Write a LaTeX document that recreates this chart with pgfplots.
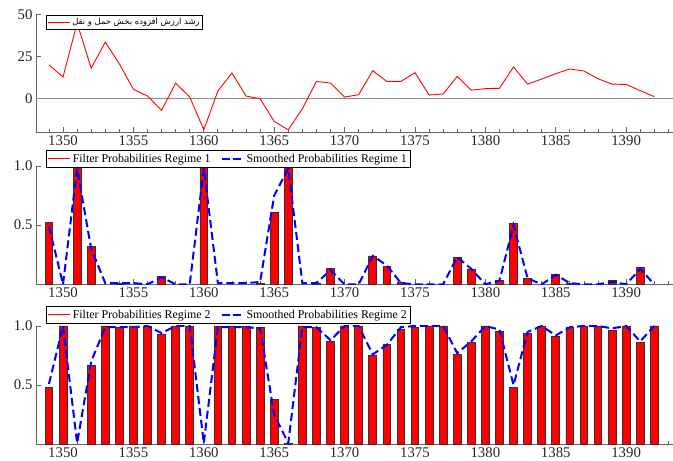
\documentclass[border=0pt]{standalone}
\usepackage{fontspec}
\setmainfont{Liberation Serif}
\newfontfamily\arabicfont[Script=Arabic]{DejaVu Sans}
\TeXXeTstate=1
\usepackage{pgfplots}
\usepackage{pgfplotstable}
\pgfplotsset{compat=1.18}

\pgfplotstableread{
year top fr1 sr1 fr2 sr2
1349 20.0 0.52 0.49 0.48 0.51
1350 12.7 0.00 0.00 1.00 1.00
1351 44.8 1.00 0.98 0.00 0.01
1352 18.0 0.32 0.30 0.67 0.70
1353 33.5 0.00 0.01 1.00 0.99
1354 20.6 0.01 0.01 0.99 0.99
1355 5.4 0.00 0.01 1.00 0.99
1356 1.4 0.00 0.00 1.00 1.00
1357 -7.1 0.065 0.06 0.93 0.94
1358 9.1 0.00 0.00 1.00 1.00
1359 0.8 0.00 0.00 1.00 1.00
1360 -18.7 1.00 0.98 0.00 0.01
1361 4.4 0.00 0.01 1.00 0.99
1362 15.1 0.00 0.01 1.00 0.99
1363 1.4 0.00 0.01 1.00 0.99
1364 -0.2 0.01 0.02 0.99 0.98
1365 -13.7 0.61 0.75 0.38 0.25
1366 -18.7 0.99 0.98 0.01 0.01
1367 -6.2 0.00 0.01 1.00 0.99
1368 10.1 0.01 0.01 0.99 0.99
1369 9.1 0.135 0.12 0.87 0.88
1370 0.8 0.00 0.00 1.00 1.00
1371 2.2 0.00 0.00 1.00 1.00
1372 16.5 0.24 0.24 0.755 0.76
1373 10.1 0.15 0.16 0.845 0.84
1374 10.1 0.02 0.01 0.97 0.99
1375 15.3 0.00 0.00 0.99 1.00
1376 2.0 0.00 0.00 1.00 1.00
1377 2.6 0.00 0.00 1.00 1.00
1378 13.1 0.23 0.23 0.76 0.77
1379 4.9 0.13 0.13 0.86 0.87
1380 5.8 0.00 0.00 1.00 1.00
1381 6.0 0.035 0.03 0.955 0.97
1382 18.7 0.515 0.50 0.48 0.50
1383 8.5 0.05 0.05 0.94 0.95
1384 11.5 0.00 0.00 1.00 1.00
1385 14.7 0.08 0.08 0.91 0.92
1386 17.5 0.005 0.01 0.99 0.99
1387 16.3 0.00 0.00 1.00 1.00
1388 11.7 0.00 0.00 1.00 1.00
1389 8.5 0.03 0.02 0.966 0.98
1390 8.3 0.00 0.00 1.00 1.00
1391 4.6 0.14 0.13 0.86 0.87
1392 1.0 0.00 0.00 1.00 1.00
}\data

\pgfplotsset{
  base/.style={
    scale only axis, width=638bp,
    xmin=1348.08, xmax=1393.4,
    axis x line*=bottom, axis y line*=left,
    axis line style={black!60, line width=0.8bp},
    xtick={1350,1355,...,1390},
    xticklabels={1350,1355,1360,1365,1370,1375,1380,1385,1390},
    minor xtick={1349,1350,...,1393},
    tick style={black!60, line width=0.8bp},
    major tick length=5bp, minor tick length=3bp,
    tick align=inside,
    ticklabel style={font=\fontsize{14.8bp}{16bp}\selectfont, text=black!85},
    legend cell align=left,
    legend columns=2,
    legend style={draw=black, fill=white, inner sep=1.5bp,
      anchor=north west, font=\fontsize{11.9bp}{13bp}\selectfont,
      /tikz/every even column/.append style={column sep=8bp}},
  },
  prob/.style={base, height=118.3bp, ymin=0, ymax=1,
    ytick={0.5,1}, yticklabels={0.5,1.0}},
  redleg/.style={legend image code/.code={\draw[red, solid, line width=1.1bp] (0bp,0bp) -- (22bp,0bp);}},
  blueleg/.style={legend image code/.code={\draw[blue, line width=2bp, dash pattern=on 8bp off 3bp] (0bp,0bp) -- (22bp,0bp);}},
  bars/.style={ybar, bar width=0.55, bar shift=0pt, fill=red, draw=black!80, line width=0.8bp, redleg,
    unbounded coords=discard, y filter/.expression={y<0.001 ? nan : y}},
}

\begin{document}
\begin{tikzpicture}
\path[use as bounding box] (0,0) rectangle (673bp,461bp);

% top panel
\begin{axis}[base, at={(36bp,328.5bp)}, anchor=south west,
  height=118.8bp, ymin=-20.3, ymax=50.4,
  ytick={0,25,50}, yticklabels={0,25,50},
  legend style={at={(0.0157,0.989)}, inner sep=1bp}]
\addplot[black!45, line width=0.8bp, forget plot] coordinates {(1348.08,0) (1393.4,0)};
\addplot[red, line width=0.9bp, redleg] table[x=year,y=top] {\data};
\addlegendentry{\arabicfont\fontsize{8.4bp}{10bp}\selectfont\beginR رشد ارزش افزوده بخش حمل و نقل\endR}
\end{axis}

% middle panel
\begin{axis}[prob, at={(36bp,176.7bp)}, anchor=south west,
  legend style={at={(0.0157,1.132)}}]
\addplot[bars] table[x=year,y=fr1] {\data};
\addlegendentry{Filter Probabilities Regime 1}
\addplot[blue, line width=2bp, dash pattern=on 8bp off 4bp, blueleg] table[x=year,y=sr1] {\data};
\addlegendentry{Smoothed Probabilities Regime 1}
\end{axis}

% bottom panel
\begin{axis}[prob, at={(36bp,16.7bp)}, anchor=south west,
  legend style={at={(0.0157,1.166)}}]
\addplot[bars] table[x=year,y=fr2] {\data};
\addlegendentry{Filter Probabilities Regime 2}
\addplot[blue, line width=2bp, dash pattern=on 8bp off 4bp, blueleg] table[x=year,y=sr2] {\data};
\addlegendentry{Smoothed Probabilities Regime 2}
\end{axis}
\end{tikzpicture}
\end{document}
